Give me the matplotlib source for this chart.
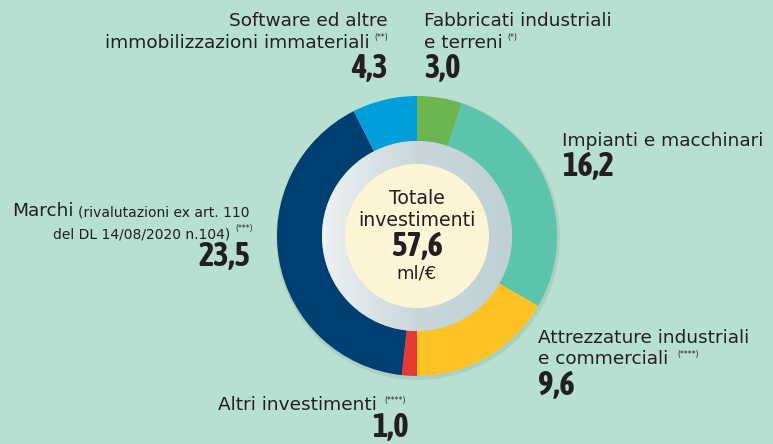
import numpy as np
import matplotlib
matplotlib.use("Agg")
import matplotlib.pyplot as plt
from matplotlib import font_manager
from matplotlib.patches import Circle

# investimenti per categoria (ml/€), in senso orario dalle ore 12
categorie = ["Fabbricati industriali e terreni", "Impianti e macchinari",
             "Attrezzature industriali e commerciali", "Altri investimenti",
             "Marchi", "Software ed altre immobilizzazioni immateriali"]
valori = [3.0, 16.2, 9.6, 1.0, 23.5, 4.3]
colori = ["#6cb651", "#5cc4ad", "#fdc325", "#e73a35", "#003f71", "#009edb"]
totale = 57.6

sfondo = "#b7e0d0"
testo = "#231f20"
font_lab = "DejaVu Sans"
size_lab = 13.3

# per i numeri serve un carattere stretto e nero
font_num = None
stretch_num = "normal"
for f in font_manager.fontManager.ttflist:
    n = f.name.lower()
    if ("narrow" in n or "condensed" in n) and (f.weight in ("bold", 700) or str(f.weight) == "700"):
        font_num = f.name
        break
if font_num is None:
    for f in font_manager.fontManager.ttflist:
        if f.stretch in ("condensed", "semi-condensed", 75, 87.5) or (isinstance(f.stretch, int) and f.stretch < 100):
            font_num = f.name
            stretch_num = "condensed"
            break
if font_num is None:
    font_num = "DejaVu Sans"
size_num = 23.5

W, H = 773, 444
fig = plt.figure(figsize=(W / 100, H / 100), dpi=100, facecolor=sfondo)
ax = fig.add_axes([0, 0, 1, 1])

cx, cy = 417, H - 236
R = 140

# ombra leggera sotto la ciambella
ax.add_patch(Circle((cx + 1, cy - 2), R + 2, color="#000000", alpha=0.07, lw=0, zorder=1))

ax.pie(valori, colors=colori, startangle=90, counterclock=False, radius=R,
       center=(cx, cy), wedgeprops=dict(width=R - 95, linewidth=0),
       frame=True)
ax.set_xlim(0, W)
ax.set_ylim(0, H)
ax.set_aspect("equal")
ax.axis("off")

# anello grigio con sfumatura orizzontale
grad = np.linspace(0, 1, 256).reshape(1, -1)
cmap = matplotlib.colors.LinearSegmentedColormap.from_list("g", ["#eef1f3", "#c9d7dc", "#bfd1d6"])
im = ax.imshow(grad, cmap=cmap, extent=(cx - 95, cx + 95, cy - 95, cy + 95),
               aspect="auto", zorder=3)
im.set_clip_path(Circle((cx, cy), 95, transform=ax.transData))
ax.add_patch(Circle((cx, cy), 72, color="#fdf5d6", lw=0, zorder=4))


def fmt(v):
    return f"{v:.1f}".replace(".", ",")


def lab(x, y, s, ha="left", size=size_lab, va="center"):
    ax.text(x, H - y, s, ha=ha, va=va, fontsize=size, family=font_lab,
            color=testo, zorder=5)


def nota(x, y, s, ha="left"):
    ax.text(x, H - y, s, ha=ha, va="center", fontsize=5.5, family=font_lab,
            color=testo, zorder=5)


def num(x, y, v, ha="left", va="center"):
    ax.text(x, H - y, fmt(v), ha=ha, va=va, fontsize=size_num,
            family=font_num, stretch=stretch_num, weight="bold", color=testo,
            zorder=5)


# testo centrale
lab(cx, 198, "Totale", ha="center", size=13.6)
lab(cx, 220, "investimenti", ha="center", size=13.6)
num(cx, 256, totale, ha="center", va="baseline")
lab(cx, 279, "ml/€", ha="center", size=13, va="baseline")

# Software
lab(388, 21, "Software ed altre", ha="right")
lab(370, 43, "immobilizzazioni immateriali", ha="right")
nota(388, 38, "(**)", ha="right")
num(388, 69, valori[5], ha="right")

# Fabbricati
lab(424, 21, "Fabbricati industriali")
lab(424, 43, "e terreni")
nota(507, 38, "(*)")
num(424, 69, valori[0])

# Impianti
lab(562, 141, "Impianti e macchinari")
num(562, 166, valori[1])

# Marchi
lab(74, 211, "Marchi", ha="right")
lab(250, 212, "(rivalutazioni ex art. 110", ha="right", size=10.0)
lab(230, 234, "del DL 14/08/2020 n.104)", ha="right", size=10.0)
nota(253, 229, "(***)", ha="right")
num(250, 257, valori[4], ha="right")

# Attrezzature
lab(538, 338, "Attrezzature industriali")
lab(538, 359, "e commerciali")
nota(677, 354, "(****)")
num(538, 385, valori[2])

# Altri investimenti
lab(218, 405, "Altri investimenti")
nota(384, 400, "(****)")
num(409, 437, valori[3], ha="right", va="baseline")

fig.savefig("out.png", dpi=100, facecolor=sfondo)
